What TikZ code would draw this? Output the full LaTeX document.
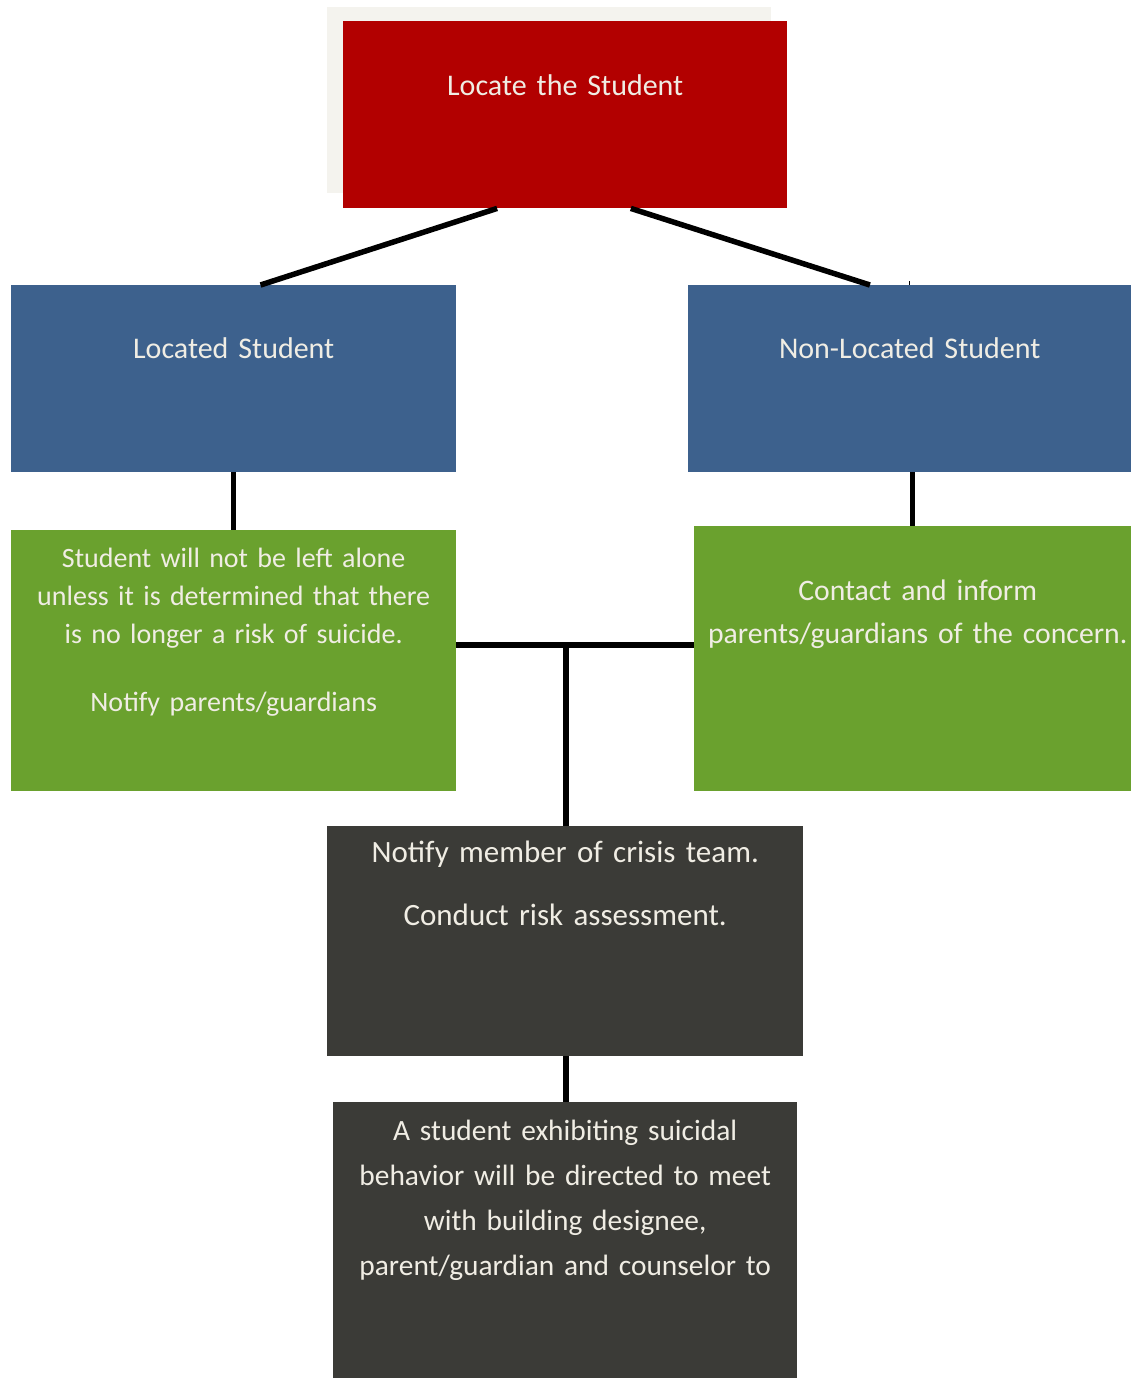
\documentclass[tikz,border=0pt]{standalone}
\usepackage{fontspec}
\setmainfont{Carlito}
\usepackage{tikz}
\usetikzlibrary{calc}

\definecolor{locred}{RGB}{178,0,0}
\definecolor{locblue}{RGB}{61,97,141}
\definecolor{actgreen}{RGB}{106,161,46}
\definecolor{teamgray}{RGB}{59,59,55}
\definecolor{shadowgray}{RGB}{244,243,238}
\definecolor{cream}{RGB}{240,237,228}

\begin{document}
\begin{tikzpicture}[x=1pt, y=-1pt]
% Styles
\tikzstyle{box} = [rectangle, anchor=north west, inner sep=0pt, align=center, text=cream, font={\fontsize{30}{38}\selectfont}]
\tikzstyle{redbox} = [box, fill=locred]
\tikzstyle{bluebox} = [box, fill=locblue]
\tikzstyle{greenbox} = [box, fill=actgreen]
\tikzstyle{darkbox} = [box, fill=teamgray]
\tikzstyle{link} = [line width=5.5pt, black]

\useasboundingbox (0,0) rectangle (1131,1378);
\fill[shadowgray] (327,7) rectangle (771,193);

% Nodes
\node (locate) [redbox, text width=444pt, text height=74pt, text depth=113pt] at (343,21) {Locate the Student};
\node (located) [bluebox, text width=445pt, text height=73pt, text depth=114pt] at (11,285) {Located Student};
\node (nonlocated) [bluebox, text width=443pt, text height=73pt, text depth=114pt] at (688,285) {Non-Located Student};
\node (stay) [greenbox, text width=445pt, text height=37pt, text depth=224pt, font={\fontsize{28}{38}\selectfont}] at (11,530)
  {Student will not be left alone\\unless it is determined that there\\is no longer a risk of suicide.\\[30pt]Notify parents/guardians};
\node (contact) [greenbox, text width=437pt, text height=74pt, text depth=191pt, font={\fontsize{29.7}{43}\selectfont}] at (694,526)
  {\hspace*{10pt}Contact and inform\\\hspace*{10pt}parents/guardians of the concern.};
\node (crisis) [darkbox, text width=476pt, text height=36pt, text depth=194pt, font={\fontsize{31}{38}\selectfont}] at (327,826)
  {Notify member of crisis team.\\[25pt]Conduct risk assessment.};
\node (directed) [darkbox, text width=464pt, text height=38pt, text depth=238pt, font={\fontsize{29.4}{45}\selectfont}] at (333,1102)
  {A student exhibiting suicidal\\behavior will be directed to meet\\with building designee,\\parent/guardian and counselor to};

% Lines
\draw [link] (locate.234) -- (located.74);
\draw [link] (locate.305) -- (nonlocated.113);
\draw [line width=0.8pt] (nonlocated.north) -- ++(0,-4);
\draw [link] (located.south) -- (stay.north);
\draw [link] (nonlocated.south -| contact.north) -- (contact.north);

\coordinate (junction) at (566,645);
\draw [link] (stay.east |- junction) -- (contact.west |- junction);
\draw [link] (junction) -- (crisis.north -| junction);
\draw [link] (crisis.south -| junction) -- (directed.north -| junction);
\end{tikzpicture}
\end{document}
